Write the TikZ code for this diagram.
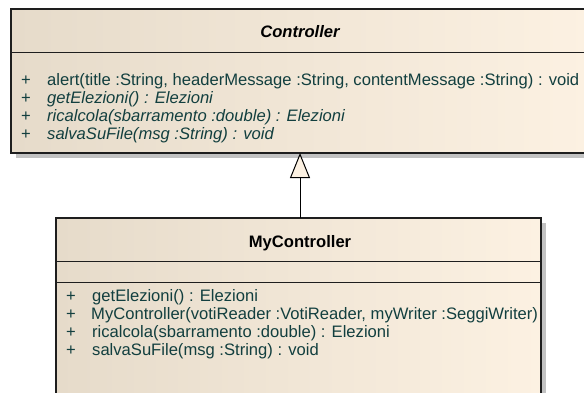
\documentclass[tikz,border=0pt]{standalone}
\usepackage{fontspec}
\setmainfont{Liberation Sans}
\usetikzlibrary{arrows.meta}
\definecolor{boxL}{HTML}{E6DBCA}
\definecolor{boxR}{HTML}{FCF1E2}
\definecolor{txt}{HTML}{123F3F}
\definecolor{shad}{HTML}{C2C2C2}
\definecolor{edge}{HTML}{1E1E1E}
\newcommand{\umlfont}{\fontsize{16.6}{18}\selectfont}
\tikzset{
  classbox/.style={draw=edge, line width=1.6pt, left color=boxL, right color=boxR, inner sep=0pt, outer sep=0pt, anchor=north west},
  shadowbox/.style={fill=shad, draw=none},
  divider/.style={draw=edge, line width=1pt},
  member/.style={anchor=base west, inner sep=0pt, text=txt, font=\umlfont},
  imember/.style={member, font=\umlfont\itshape},
  plus/.style={anchor=base west, inner sep=0pt, text=txt, font=\umlfont},
  title/.style={anchor=base, inner sep=0pt, font=\umlfont\bfseries},
  gen/.style={-{Triangle[open, length=25pt, width=20pt, fill=boxR]}, draw=black, line width=1pt}
}
\begin{document}
\begin{tikzpicture}[x=1pt, y=1pt]
\useasboundingbox (0,0) rectangle (584,-392);
\fill[white] (0,0) rectangle (584,-392);
% shadows
\fill[shadowbox] (16,-14) rectangle (594,-158);
\fill[shadowbox] (61,-223) rectangle (546,-400);
% Controller
\node[classbox, minimum width=578pt, minimum height=144pt] (ctrl) at (11,-9) {};
\draw[divider] (11,-52) -- (589,-52);
\node[title, font=\umlfont\bfseries\itshape] (ctrlT) at (300,-37) {Controller};
\foreach \y/\n in {85/a,103/b,121/c,139/d} {
  \node[plus] (cp\n) at (21,-\y) {+};
}
\node[member] (c1) at (47,-85) {alert(title :String, headerMessage :String, contentMessage :String) : void};
\node[imember] (c2) at (47,-103) {getElezioni() : Elezioni};
\node[imember] (c3) at (47,-121) {ricalcola(sbarramento :double) : Elezioni};
\node[imember] (c4) at (47,-139) {salvaSuFile(msg :String) : void};
% MyController
\node[classbox, minimum width=485pt, minimum height=190pt] (my) at (56,-218) {};
\draw[divider] (56,-261) -- (541,-261);
\draw[divider] (56,-282) -- (541,-282);
\node[title] (myT) at (300,-247) {MyController};
\foreach \y/\n in {301/a,319/b,337/c,355/d} {
  \node[plus] (mp\n) at (66,-\y) {+};
}
\node[member] (m1) at (92,-301) {getElezioni() : Elezioni};
\node[member] (m2) at (91,-319) {MyController(votiReader :VotiReader, myWriter :SeggiWriter)};
\node[member] (m3) at (92,-337) {ricalcola(sbarramento :double) : Elezioni};
\node[member] (m4) at (92,-355) {salvaSuFile(msg :String) : void};
% generalization
\draw[gen] (my.north -| ctrl.south) -- (ctrl.south);
\end{tikzpicture}
\end{document}
